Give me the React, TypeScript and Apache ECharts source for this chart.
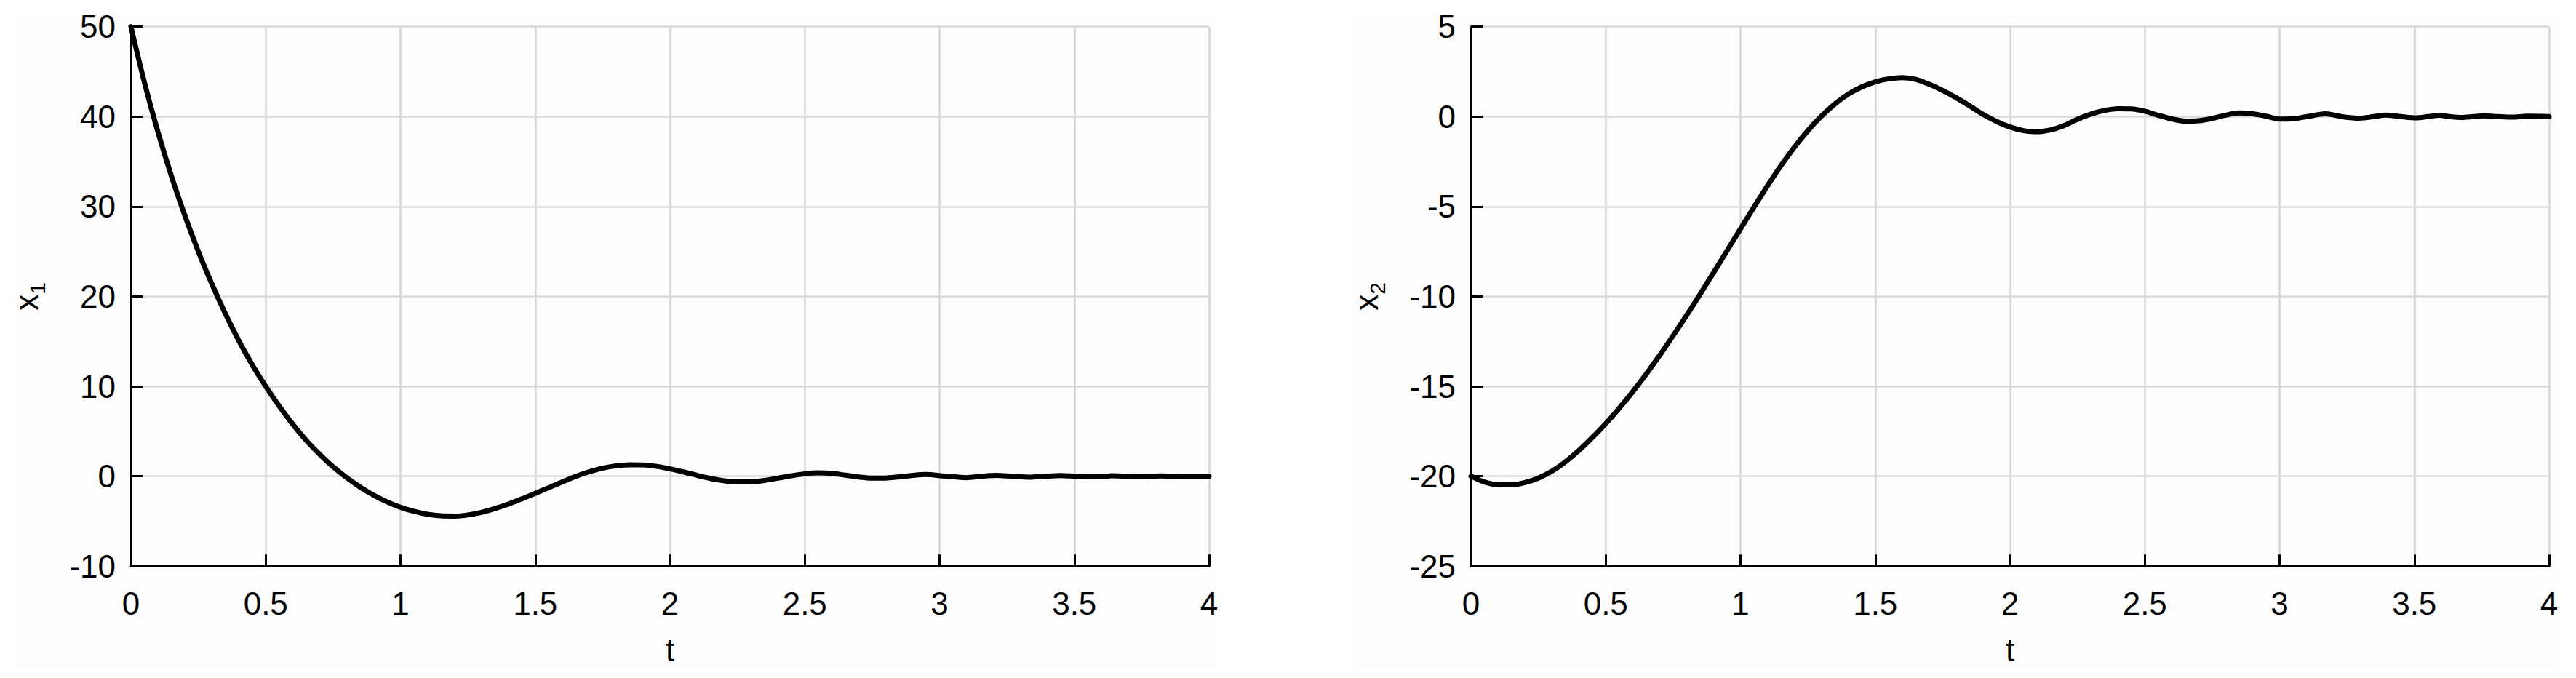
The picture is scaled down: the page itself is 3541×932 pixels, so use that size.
import React, { useEffect, useRef } from 'react';
import * as echarts from 'echarts';

// Left panel: x1(t)
const T1 = [0, 0.05, 0.1, 0.15, 0.2, 0.25, 0.3, 0.35, 0.4, 0.45, 0.5, 0.55, 0.6, 0.65, 0.7, 0.75, 0.8, 0.85, 0.9, 0.95, 1.0, 1.05, 1.1, 1.15, 1.2, 1.25, 1.3, 1.35, 1.4, 1.45, 1.5, 1.55, 1.6, 1.65, 1.7, 1.75, 1.8, 1.85, 1.9, 1.95, 2.0, 2.05, 2.1, 2.15, 2.2, 2.25, 2.3, 2.35, 2.4, 2.45, 2.5, 2.55, 2.6, 2.65, 2.7, 2.75, 2.8, 2.85, 2.9, 2.947, 3.02, 3.1, 3.155, 3.21, 3.27, 3.336, 3.39, 3.45, 3.5, 3.55, 3.6, 3.64, 3.69, 3.73, 3.78, 3.82, 3.86, 3.9, 3.95, 4.0];
const X1 = [50, 43.8, 38.3, 33.4, 29.0, 25.0, 21.4, 18.1, 15.1, 12.4, 10.0, 7.8, 5.8, 4.0, 2.45, 1.05, -0.15, -1.2, -2.1, -2.85, -3.45, -3.9, -4.22, -4.4, -4.43, -4.3, -4.02, -3.6, -3.1, -2.52, -1.9, -1.27, -0.63, -0.02, 0.5, 0.9, 1.16, 1.28, 1.26, 1.1, 0.82, 0.48, 0.1, -0.25, -0.5, -0.64, -0.62, -0.47, -0.22, 0.05, 0.27, 0.38, 0.32, 0.12, -0.08, -0.2, -0.2, -0.07, 0.09, 0.19, 0.02, -0.16, 0, 0.1, 0, -0.1, 0, 0.08, 0, -0.07, 0, 0.05, 0, -0.04, 0, 0.03, 0, -0.02, 0.01, 0];

// Right panel: x2(t)
const T2 = [0, 0.05, 0.1, 0.15, 0.2, 0.25, 0.3, 0.35, 0.4, 0.45, 0.5, 0.55, 0.6, 0.65, 0.7, 0.75, 0.8, 0.85, 0.9, 0.95, 1.0, 1.05, 1.1, 1.15, 1.2, 1.25, 1.3, 1.35, 1.4, 1.45, 1.5, 1.55, 1.6, 1.65, 1.7, 1.75, 1.8, 1.85, 1.9, 1.95, 2.0, 2.05, 2.1, 2.15, 2.2, 2.25, 2.3, 2.35, 2.4, 2.45, 2.5, 2.55, 2.6, 2.65, 2.7, 2.75, 2.8, 2.85, 2.9, 2.95, 3.0, 3.05, 3.1, 3.17, 3.23, 3.296, 3.35, 3.394, 3.45, 3.507, 3.55, 3.592, 3.63, 3.677, 3.72, 3.76, 3.81, 3.86, 3.92, 4.0];
const X2 = [-20.0, -20.32, -20.47, -20.48, -20.35, -20.1, -19.72, -19.2, -18.57, -17.85, -17.07, -16.22, -15.3, -14.32, -13.28, -12.18, -11.05, -9.88, -8.68, -7.46, -6.24, -5.03, -3.85, -2.73, -1.7, -0.78, 0.02, 0.7, 1.25, 1.65, 1.93, 2.1, 2.17, 2.07, 1.8, 1.45, 1.05, 0.6, 0.12, -0.27, -0.58, -0.78, -0.84, -0.74, -0.5, -0.15, 0.14, 0.34, 0.44, 0.43, 0.3, 0.07, -0.13, -0.25, -0.23, -0.1, 0.08, 0.2, 0.15, 0.02, -0.14, -0.12, -0.01, 0.15, 0, -0.09, 0, 0.08, 0, -0.07, 0, 0.07, 0, -0.05, 0, 0.04, 0, -0.03, 0.02, 0];

// Axis ranges [min, max, interval]
const T_RANGE = [0, 4, 0.5];
const Y1_RANGE = [-10, 50, 10];
const Y2_RANGE = [-25, 5, 5];
const X_NAME = 't';
const Y1_NAME = ['x', '1'];
const Y2_NAME = ['x', '2'];

const FONT = '"Liberation Sans", Arial, Helvetica, sans-serif';

export default function App() {
  const ref = useRef<HTMLDivElement>(null);

  useEffect(() => {
    if (!ref.current) return;
    const chart = echarts.init(ref.current, null, { renderer: 'svg' });

    const axisLine = { show: true, onZero: false, lineStyle: { color: '#000', width: 3 } };
    const axisTick = { show: true, inside: true, length: 16, lineStyle: { color: '#000', width: 3 } };
    const splitLine = { show: true, lineStyle: { color: '#d9d9d9', width: 2.7 } };
    const label = (margin: number) => ({ fontSize: 44, color: '#000', fontFamily: FONT, margin });

    const mkX = (gi: number) => ({
      type: 'value',
      gridIndex: gi,
      min: T_RANGE[0],
      max: T_RANGE[1],
      interval: T_RANGE[2],
      name: X_NAME,
      nameLocation: 'middle',
      nameGap: 93,
      nameTextStyle: { fontSize: 44, color: '#000', fontFamily: FONT },
      axisLine,
      axisTick,
      axisLabel: label(29),
      splitLine,
    });

    const mkY = (gi: number, range: number[], nm: string[]) => ({
      type: 'value',
      gridIndex: gi,
      min: range[0],
      max: range[1],
      interval: range[2],
      name: `{a|${nm[0]}}{b|${nm[1]}}`,
      nameLocation: 'middle',
      nameRotate: 90,
      nameGap: 122,
      nameTextStyle: {
        rich: {
          a: { fontSize: 44, lineHeight: 44, color: '#000', fontFamily: FONT, verticalAlign: 'top' },
          b: { fontSize: 30, lineHeight: 30, color: '#000', fontFamily: FONT, verticalAlign: 'top', padding: [22, 0, 0, 0] },
        },
      },
      axisLine,
      axisTick,
      axisLabel: label(21),
      splitLine,
    });

    const lineSeries = (gi: number, ts: number[], vs: number[]) => ({
      type: 'line',
      xAxisIndex: gi,
      yAxisIndex: gi,
      data: ts.map((t, i) => [t, vs[i]]),
      showSymbol: false,
      symbol: 'none',
      smooth: 0.3,
      clip: false,
      lineStyle: { color: '#000', width: 7, join: 'round', cap: 'round' },
      z: 3,
    });

    chart.setOption({
      animation: false,
      backgroundColor: '#ffffff',
      textStyle: { fontFamily: FONT },
      graphic: [
        { type: 'rect', z: -10, silent: true, shape: { x: 20, y: 20, width: 1652, height: 897 }, style: { fill: '#fdfdfd' } },
        { type: 'rect', z: -10, silent: true, shape: { x: 1863, y: 20, width: 1654, height: 897 }, style: { fill: '#fdfdfd' } },
      ],
      grid: [
        { left: 180, top: 36.7, width: 1482, height: 741.6, containLabel: false },
        { left: 2022, top: 36.7, width: 1482, height: 741.6, containLabel: false },
      ],
      xAxis: [mkX(0), mkX(1)],
      yAxis: [mkY(0, Y1_RANGE, Y1_NAME), mkY(1, Y2_RANGE, Y2_NAME)],
      series: [lineSeries(0, T1, X1), lineSeries(1, T2, X2)],
    });

    return () => chart.dispose();
  }, []);

  return (
    <div
      ref={ref}
      style={{ position: 'absolute', left: 0, top: 0, width: 3541, height: 932 }}
    />
  );
}
